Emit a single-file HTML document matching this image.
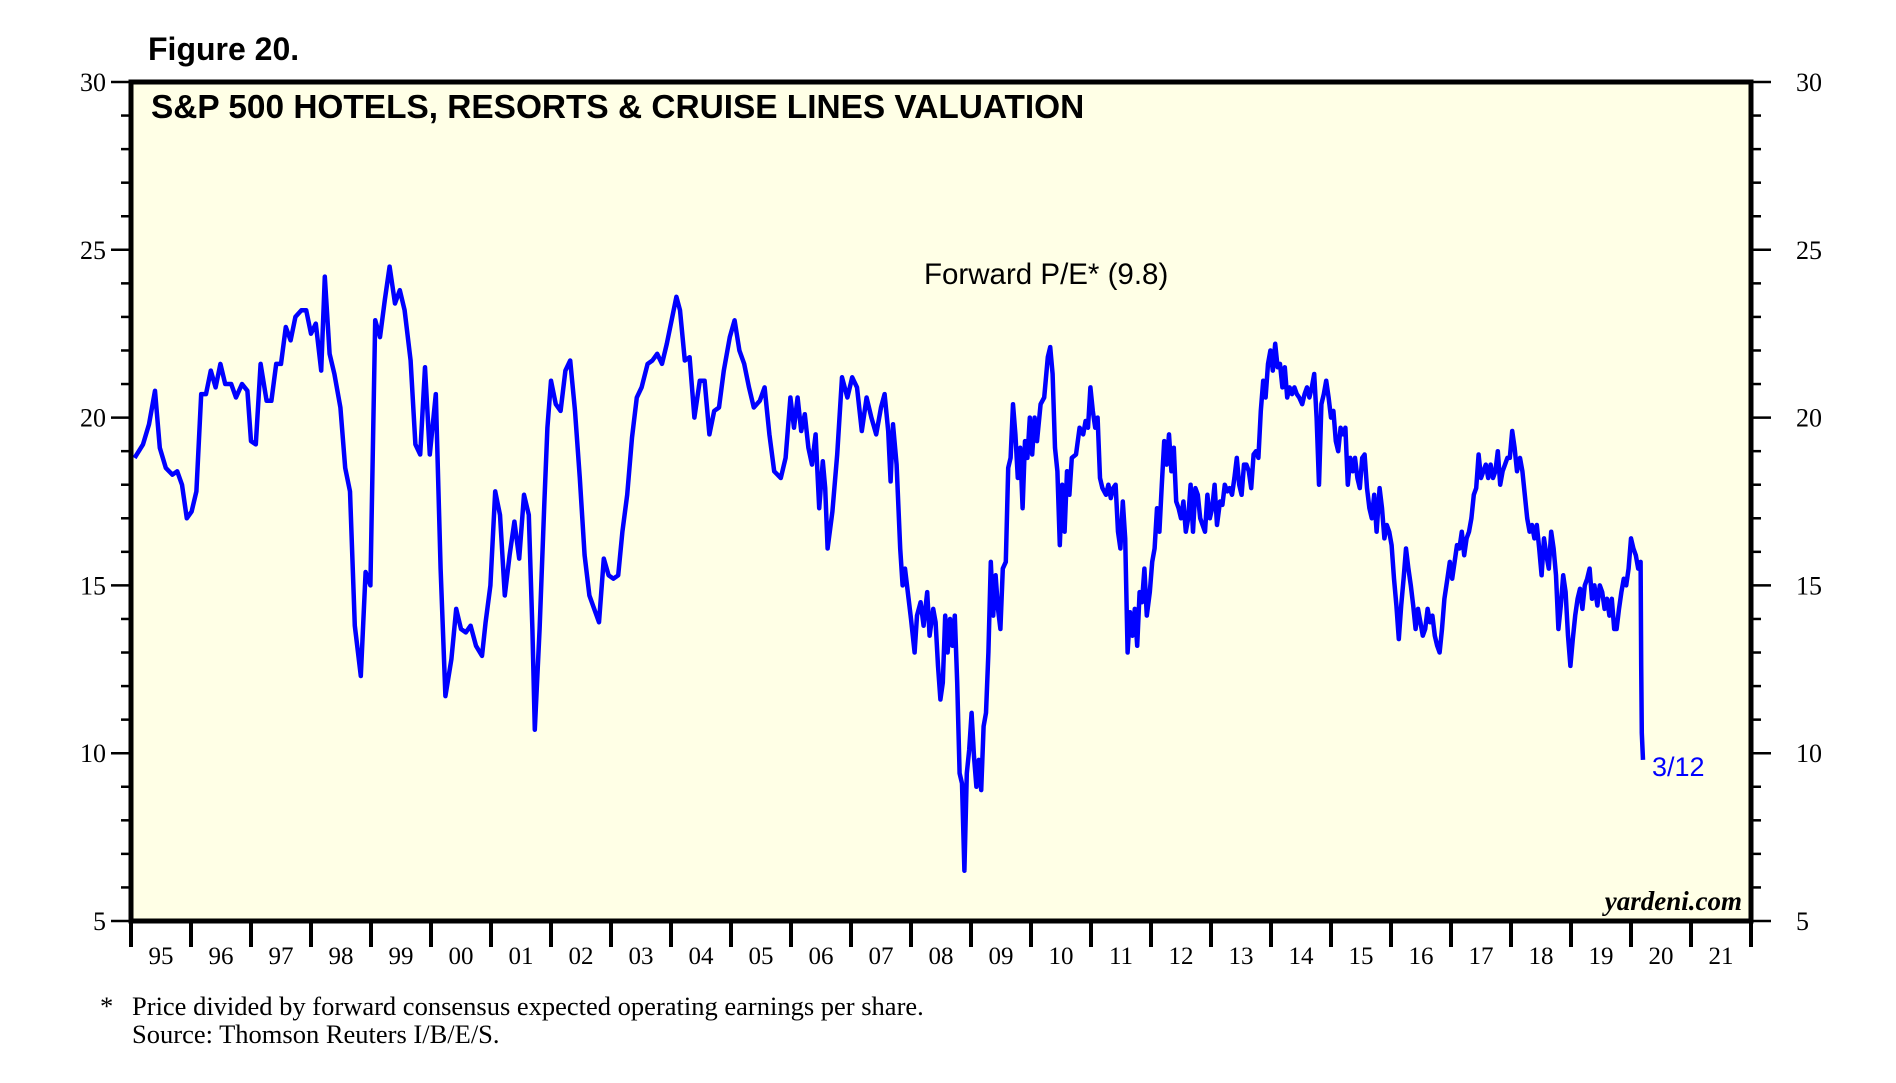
<!DOCTYPE html>
<html><head><meta charset="utf-8"><style>
html,body{margin:0;padding:0;background:#fff;}
svg{display:block;}
</style></head><body>
<svg id="chart" width="1896" height="1083" viewBox="0 0 1896 1083" xmlns="http://www.w3.org/2000/svg">
<text x="148" y="60" font-family="Liberation Sans, sans-serif" font-weight="bold" font-size="32">Figure 20.</text>
<rect x="131" y="82" width="1620" height="839" fill="#ffffe6"/>
<g id="axes"></g>
<path id="series" fill="none" stroke="#0000ff" stroke-width="4.5" stroke-linejoin="round"/>
<rect x="131" y="82" width="1620" height="839" fill="none" stroke="#000" stroke-width="5"/>
<text x="151" y="118" font-family="Liberation Sans, sans-serif" font-weight="bold" font-size="33.4">S&amp;P 500 HOTELS, RESORTS &amp; CRUISE LINES VALUATION</text>
<text x="924" y="284" font-family="Liberation Sans, sans-serif" font-size="29.5">Forward P/E* (9.8)</text>
<text x="1652" y="776" font-family="Liberation Sans, sans-serif" font-size="27" fill="#0000ff">3/12</text>
<text x="1742" y="910" text-anchor="end" font-family="Liberation Serif, serif" font-style="italic" font-weight="bold" font-size="27">yardeni.com</text>
<text x="100" y="1015" font-family="Liberation Serif, serif" font-size="26.5">*</text>
<text x="132" y="1015" font-family="Liberation Serif, serif" font-size="26.5">Price divided by forward consensus expected operating earnings per share.</text>
<text x="132" y="1043" font-family="Liberation Serif, serif" font-size="26.5">Source: Thomson Reuters I/B/E/S.</text>
</svg>
<script>
const yTicks = [5, 10, 15, 20, 25, 30];
const xYears = ["95","96","97","98","99","00","01","02","03","04","05","06","07","08","09","10","11","12","13","14","15","16","17","18","19","20","21"];
const dates = [1995.06,1995.20,1995.30,1995.40,1995.48,1995.58,1995.69,1995.77,1995.85,1995.93,1996.01,1996.09,1996.17,1996.25,1996.33,1996.41,1996.49,1996.57,1996.67,1996.75,1996.85,1996.94,1997.00,1997.08,1997.16,1997.26,1997.34,1997.42,1997.50,1997.58,1997.66,1997.74,1997.84,1997.92,1998.00,1998.08,1998.17,1998.23,1998.31,1998.39,1998.49,1998.57,1998.65,1998.73,1998.83,1998.91,1998.99,1999.07,1999.15,1999.23,1999.31,1999.40,1999.48,1999.56,1999.66,1999.74,1999.82,1999.90,1999.98,2000.08,2000.16,2000.24,2000.34,2000.42,2000.50,2000.58,2000.66,2000.75,2000.85,2000.91,2000.99,2001.07,2001.15,2001.23,2001.31,2001.39,2001.47,2001.55,2001.63,2001.69,2001.73,2001.81,2001.89,2001.94,2002.00,2002.08,2002.16,2002.24,2002.32,2002.40,2002.48,2002.56,2002.64,2002.72,2002.80,2002.88,2002.96,2003.04,2003.12,2003.19,2003.27,2003.35,2003.43,2003.51,2003.61,2003.69,2003.77,2003.85,2003.93,2004.01,2004.09,2004.15,2004.23,2004.31,2004.39,2004.48,2004.56,2004.64,2004.72,2004.80,2004.88,2004.98,2005.06,2005.14,2005.22,2005.30,2005.38,2005.48,2005.56,2005.64,2005.72,2005.83,2005.91,2005.99,2006.05,2006.11,2006.17,2006.23,2006.29,2006.35,2006.41,2006.47,2006.53,2006.57,2006.61,2006.69,2006.77,2006.85,2006.94,2007.02,2007.10,2007.18,2007.26,2007.34,2007.42,2007.50,2007.56,2007.62,2007.66,2007.70,2007.76,2007.82,2007.86,2007.90,2007.96,2008.00,2008.06,2008.10,2008.16,2008.21,2008.27,2008.31,2008.37,2008.41,2008.45,2008.49,2008.53,2008.57,2008.61,2008.65,2008.69,2008.73,2008.77,2008.81,2008.85,2008.89,2008.93,2008.97,2009.01,2009.05,2009.09,2009.13,2009.17,2009.21,2009.25,2009.29,2009.33,2009.37,2009.41,2009.45,2009.49,2009.53,2009.58,2009.62,2009.66,2009.70,2009.74,2009.78,2009.82,2009.86,2009.90,2009.94,2009.98,2010.02,2010.06,2010.10,2010.16,2010.22,2010.28,2010.32,2010.36,2010.40,2010.44,2010.48,2010.52,2010.56,2010.60,2010.64,2010.68,2010.75,2010.81,2010.87,2010.91,2010.95,2010.99,2011.03,2011.07,2011.11,2011.15,2011.19,2011.25,2011.29,2011.33,2011.37,2011.41,2011.45,2011.49,2011.53,2011.57,2011.61,2011.65,2011.69,2011.73,2011.77,2011.81,2011.85,2011.89,2011.93,2011.98,2012.02,2012.06,2012.10,2012.14,2012.18,2012.22,2012.26,2012.30,2012.34,2012.38,2012.42,2012.46,2012.50,2012.54,2012.58,2012.62,2012.66,2012.70,2012.74,2012.78,2012.82,2012.86,2012.90,2012.94,2012.98,2013.02,2013.06,2013.10,2013.15,2013.19,2013.23,2013.27,2013.31,2013.35,2013.39,2013.43,2013.47,2013.51,2013.55,2013.59,2013.63,2013.67,2013.71,2013.75,2013.79,2013.83,2013.87,2013.91,2013.95,2013.99,2014.03,2014.07,2014.11,2014.15,2014.19,2014.23,2014.27,2014.31,2014.35,2014.39,2014.43,2014.47,2014.52,2014.56,2014.60,2014.64,2014.68,2014.72,2014.76,2014.80,2014.84,2014.88,2014.92,2014.96,2015.00,2015.04,2015.08,2015.12,2015.16,2015.20,2015.24,2015.28,2015.32,2015.36,2015.40,2015.44,2015.48,2015.52,2015.56,2015.60,2015.64,2015.68,2015.72,2015.76,2015.81,2015.85,2015.89,2015.93,2015.97,2016.01,2016.05,2016.09,2016.13,2016.17,2016.21,2016.25,2016.29,2016.33,2016.37,2016.41,2016.45,2016.49,2016.53,2016.57,2016.61,2016.65,2016.69,2016.73,2016.77,2016.81,2016.85,2016.89,2016.94,2016.98,2017.02,2017.06,2017.10,2017.14,2017.18,2017.22,2017.26,2017.30,2017.34,2017.38,2017.42,2017.46,2017.50,2017.54,2017.58,2017.62,2017.66,2017.70,2017.74,2017.78,2017.82,2017.86,2017.90,2017.94,2017.98,2018.02,2018.06,2018.10,2018.15,2018.19,2018.23,2018.27,2018.31,2018.35,2018.39,2018.43,2018.47,2018.51,2018.55,2018.59,2018.63,2018.67,2018.71,2018.75,2018.79,2018.83,2018.87,2018.91,2018.95,2018.99,2019.03,2019.07,2019.11,2019.15,2019.19,2019.23,2019.27,2019.31,2019.35,2019.39,2019.44,2019.48,2019.52,2019.56,2019.60,2019.64,2019.68,2019.72,2019.76,2019.80,2019.84,2019.88,2019.92,2019.96,2020.00,2020.04,2020.08,2020.12,2020.16,2020.17,2020.18,2020.20];
const peValues = [18.8,19.2,19.8,20.8,19.1,18.5,18.3,18.4,18.0,17.0,17.2,17.8,20.7,20.7,21.4,20.9,21.6,21.0,21.0,20.6,21.0,20.8,19.3,19.2,21.6,20.5,20.5,21.6,21.6,22.7,22.3,23.0,23.2,23.2,22.5,22.8,21.4,24.2,21.9,21.3,20.3,18.5,17.8,13.8,12.3,15.4,15.0,22.9,22.4,23.5,24.5,23.4,23.8,23.2,21.7,19.2,18.9,21.5,18.9,20.7,15.5,11.7,12.8,14.3,13.7,13.6,13.8,13.2,12.9,13.9,15.0,17.8,17.1,14.7,15.9,16.9,15.8,17.7,17.1,13.7,10.7,13.7,17.5,19.7,21.1,20.4,20.2,21.4,21.7,20.2,18.2,15.9,14.7,14.3,13.9,15.8,15.3,15.2,15.3,16.6,17.7,19.4,20.6,20.9,21.6,21.7,21.9,21.6,22.2,22.9,23.6,23.2,21.7,21.8,20.0,21.1,21.1,19.5,20.2,20.3,21.4,22.4,22.9,22.0,21.6,20.9,20.3,20.5,20.9,19.5,18.4,18.2,18.8,20.6,19.7,20.6,19.6,20.1,19.1,18.6,19.5,17.3,18.7,17.9,16.1,17.2,18.9,21.2,20.6,21.2,20.9,19.6,20.6,20.0,19.5,20.3,20.7,19.6,18.1,19.8,18.6,16.1,15.0,15.5,14.6,14.0,13.0,14.1,14.5,13.8,14.8,13.5,14.3,13.9,12.6,11.6,12.1,14.1,13.0,14.0,13.2,14.1,12.1,9.4,9.1,6.5,9.4,10.1,11.2,9.9,9.0,9.8,8.9,10.8,11.2,13.0,15.7,14.1,15.3,14.3,13.7,15.5,15.7,18.5,18.8,20.4,19.5,18.2,19.1,17.3,19.3,18.8,20.0,18.9,20.0,19.3,20.4,20.6,21.8,22.1,21.3,19.1,18.4,16.2,18.0,16.6,18.4,17.7,18.8,18.9,19.7,19.5,19.9,19.7,20.9,20.2,19.7,20.0,18.2,17.9,17.7,18.0,17.6,17.9,18.0,16.6,16.1,17.5,16.4,13.0,14.2,13.5,14.3,13.2,14.8,14.5,15.5,14.1,14.8,15.7,16.1,17.3,16.6,18.0,19.3,18.6,19.5,18.4,19.1,17.5,17.3,17.0,17.5,16.6,17.0,18.0,16.6,17.9,17.7,17.0,16.8,16.6,17.7,17.0,17.3,18.0,16.8,17.5,17.4,18.0,17.8,17.9,17.7,18.2,18.8,18.0,17.7,18.6,18.6,18.4,17.9,18.9,19.0,18.8,20.2,21.1,20.6,21.6,22.0,21.4,22.2,21.5,21.6,20.9,21.5,20.6,20.9,20.7,20.9,20.7,20.6,20.4,20.7,20.9,20.6,20.9,21.3,20.0,18.0,20.4,20.7,21.1,20.6,20.0,20.2,19.3,19.0,19.7,19.5,19.7,18.0,18.8,18.4,18.8,18.2,17.9,18.8,18.9,17.9,17.3,17.0,17.7,16.6,17.9,17.3,16.4,16.8,16.6,16.2,15.2,14.4,13.4,14.4,15.2,16.1,15.5,15.0,14.4,13.7,14.3,13.9,13.5,13.7,14.3,13.9,14.1,13.5,13.2,13.0,13.7,14.6,15.2,15.7,15.2,15.7,16.2,16.1,16.6,15.9,16.4,16.6,17.0,17.7,17.9,18.9,18.2,18.4,18.6,18.2,18.6,18.2,18.4,19.0,18.0,18.4,18.6,18.8,18.8,19.6,19.1,18.4,18.8,18.4,17.7,17.0,16.6,16.8,16.4,16.8,16.1,15.3,16.4,15.9,15.5,16.6,16.1,15.3,13.7,14.4,15.3,14.8,13.5,12.6,13.4,14.1,14.6,14.9,14.3,15.0,15.2,15.5,14.6,15.0,14.4,15.0,14.8,14.3,14.6,14.1,14.6,13.7,13.7,14.3,14.8,15.2,15.0,15.5,16.4,16.1,15.9,15.5,15.7,12.6,10.6,9.8];

const L = 131, R = 1751, T = 82, B = 921;
const X0 = 1995, X1 = 2022, Y0 = 5, Y1 = 30;
const xScale = yr => L + (yr - X0) / (X1 - X0) * (R - L);
const yScale = v => B - (v - Y0) / (Y1 - Y0) * (B - T);
const NS = "http://www.w3.org/2000/svg";
const axes = document.getElementById("axes");
function mk(tag, attrs) { const e = document.createElementNS(NS, tag); for (const k in attrs) e.setAttribute(k, attrs[k]); axes.appendChild(e); return e; }

for (let v = Y0; v <= Y1; v++) {
  const y = yScale(v);
  const major = v % 5 === 0;
  const len = major ? 20 : 10;
  const tl = mk("line", {x1: L - len, x2: L, y1: y, y2: y, stroke: "#000", "stroke-width": 2.5});
  
  
  const tr = mk("line", {x1: R, x2: R + len, y1: y, y2: y, stroke: "#000", "stroke-width": 2.5});
  
  
}
yTicks.forEach(v => {
  const y = yScale(v);
  const a = mk("text", {x: 106, y: y + 9, "text-anchor": "end", "font-family": "Liberation Serif, serif", "font-size": 26});
  a.textContent = v;
  
  
  const b = mk("text", {x: 1796, y: y + 9, "text-anchor": "start", "font-family": "Liberation Serif, serif", "font-size": 26});
  b.textContent = v;
  
  
});
for (let i = 0; i <= xYears.length; i++) {
  const x = xScale(X0 + i);
  const t = mk("line", {x1: x, x2: x, y1: B, y2: B + 26, stroke: "#000", "stroke-width": 4});
  
  
}
xYears.forEach((lab, i) => {
  const t = mk("text", {x: xScale(X0 + i + 0.5), y: 964, "text-anchor": "middle", "font-family": "Liberation Serif, serif", "font-size": 25});
  t.textContent = lab;
  
  
});
let d = "";
dates.forEach((yr, i) => { d += (i ? "L" : "M") + xScale(yr).toFixed(1) + "," + yScale(peValues[i]).toFixed(1); });
document.getElementById("series").setAttribute("d", d);
</script>
</body></html>
